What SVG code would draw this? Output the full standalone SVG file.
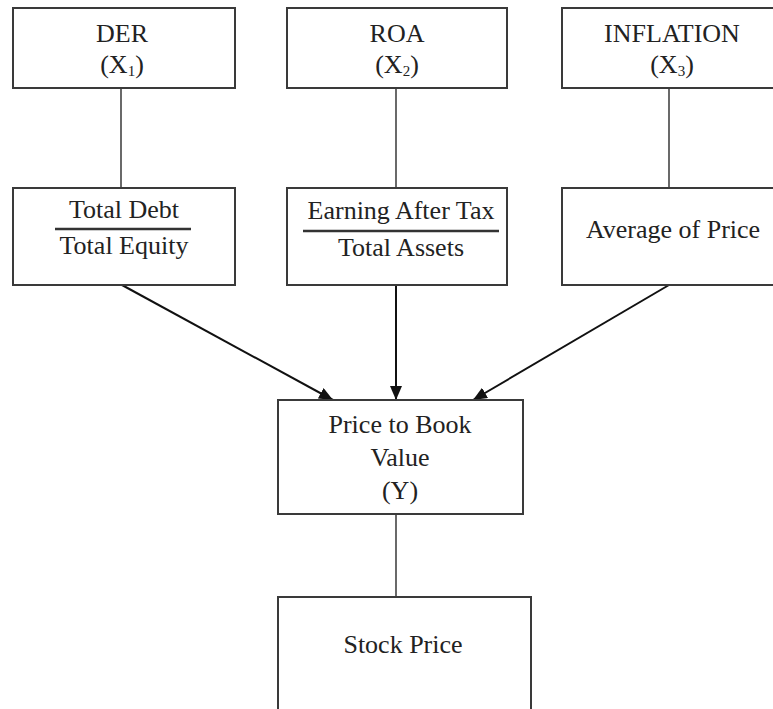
<svg xmlns="http://www.w3.org/2000/svg" width="773" height="709" viewBox="0 0 773 709">
<style>
.box{fill:#fff;stroke:#3a3a3a;stroke-width:2}
.t{font-family:"Liberation Serif","Times New Roman",serif;font-size:26px;fill:#222;text-anchor:middle}
.sub{font-size:15px}
.frac{stroke:#333;stroke-width:2.5}
.conn{stroke:#444;stroke-width:1.6;fill:none}
.arr{stroke:#111;stroke-width:2;fill:none;marker-end:url(#ah)}
</style>
<defs>
<marker id="ah" viewBox="0 0 14 12" refX="14" refY="6" markerWidth="14" markerHeight="12" markerUnits="userSpaceOnUse" orient="auto">
<path d="M0,0 L14,6 L0,12 Z" fill="#111"/>
</marker>
</defs>
<rect width="773" height="709" fill="#fff"/>
<g id="connectors">
<line class="conn" x1="121" y1="88" x2="121" y2="188"/>
<line class="conn" x1="396" y1="88" x2="396" y2="188"/>
<line class="conn" x1="669" y1="88" x2="669" y2="188"/>
<line class="arr" x1="122" y1="285" x2="333" y2="400"/>
<line class="arr" x1="396" y1="285" x2="396" y2="400"/>
<line class="arr" x1="669" y1="285" x2="473" y2="400"/>
<line class="conn" x1="396" y1="514" x2="396" y2="597"/>
</g>
<g id="der">
<rect class="box" x="13" y="8" width="222" height="80"/>
<text class="t" x="122" y="42">DER</text>
<text class="t" x="122" y="73">(X<tspan class="sub" dy="3">1</tspan><tspan dy="-3">)</tspan></text>
</g>
<g id="roa">
<rect class="box" x="287" y="8" width="220" height="80"/>
<text class="t" x="397" y="42">ROA</text>
<text class="t" x="397" y="73">(X<tspan class="sub" dy="3">2</tspan><tspan dy="-3">)</tspan></text>
</g>
<g id="inflation">
<rect class="box" x="562" y="8" width="222" height="80"/>
<text class="t" x="672" y="42">INFLATION</text>
<text class="t" x="672" y="73">(X<tspan class="sub" dy="3">3</tspan><tspan dy="-3">)</tspan></text>
</g>
<g id="der-formula">
<rect class="box" x="13" y="188" width="222" height="97"/>
<text class="t" x="124" y="218">Total Debt</text>
<line class="frac" x1="55" y1="229" x2="191" y2="229"/>
<text class="t" x="124" y="254">Total Equity</text>
</g>
<g id="roa-formula">
<rect class="box" x="287" y="188" width="220" height="97"/>
<text class="t" x="401" y="219">Earning After Tax</text>
<line class="frac" x1="303" y1="231" x2="499" y2="231"/>
<text class="t" x="401" y="256">Total Assets</text>
</g>
<g id="inflation-formula">
<rect class="box" x="562" y="188" width="222" height="97"/>
<text class="t" x="673" y="238">Average of Price</text>
</g>
<g id="pbv">
<rect class="box" x="278" y="400" width="245" height="114"/>
<text class="t" x="400" y="433">Price to Book</text>
<text class="t" x="400" y="466">Value</text>
<text class="t" x="400" y="499">(Y)</text>
</g>
<g id="stock-price">
<rect class="box" x="278" y="597" width="253" height="130"/>
<text class="t" x="403" y="653">Stock Price</text>
</g>
</svg>
